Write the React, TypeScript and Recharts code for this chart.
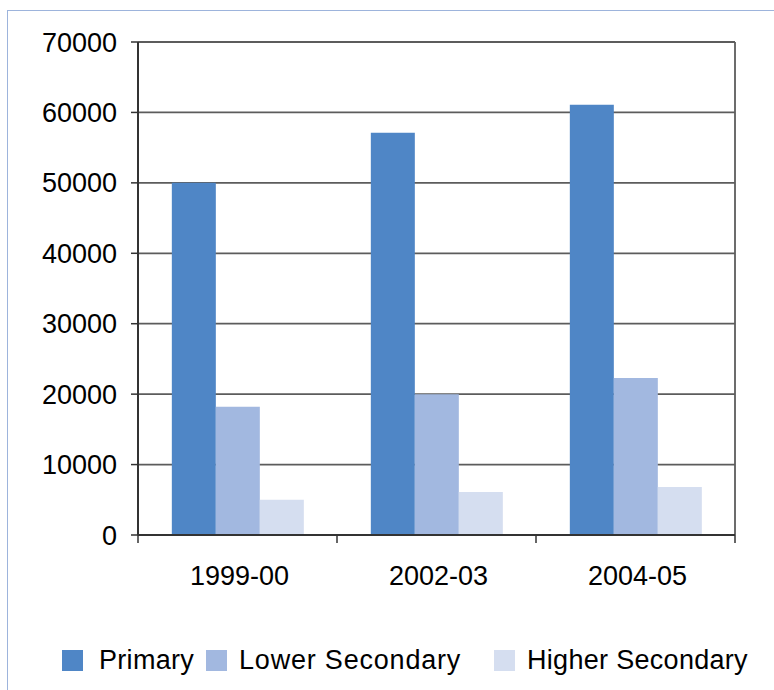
import React from 'react';
import { BarChart, Bar, XAxis, YAxis, CartesianGrid, Legend } from 'recharts';

const categories = ['1999-00', '2002-03', '2004-05'];
const primary = [50000, 57100, 61100];
const lowerSecondary = [18200, 20000, 22300];
const higherSecondary = [5000, 6100, 6800];
const yTicks = [0, 10000, 20000, 30000, 40000, 50000, 60000, 70000];

const seriesNames = ['Primary', 'Lower Secondary', 'Higher Secondary'];
const seriesColors = ['#4f86c6', '#a2b8e0', '#d5def0'];

const data = categories.map((c, i) => ({
  name: c,
  primary: primary[i],
  lower: lowerSecondary[i],
  higher: higherSecondary[i],
}));

const W = 774;
const H = 690;
const MARGIN = { top: 42, right: 39, bottom: 10, left: 0 };
const Y_AXIS_W = 138;
const X_AXIS_H = 105;
const LEGEND_H = 40;
const FONT = '"Liberation Sans", Arial, sans-serif';
const BAND = (W - MARGIN.left - MARGIN.right - Y_AXIS_W) / categories.length;
const X_TICK_SIZE = 8;
const X_TICK_MARGIN = 23;

const XTick = (props: any) => {
  const { x, y, payload, index } = props;
  const axisY = y - X_TICK_SIZE - X_TICK_MARGIN;
  const left = x - BAND / 2;
  const right = x + BAND / 2;
  return (
    <g>
      <line x1={left} x2={left} y1={axisY} y2={axisY + X_TICK_SIZE} stroke="#333" strokeWidth={1.5} />
      {index === categories.length - 1 && (
        <line x1={right} x2={right} y1={axisY} y2={axisY + X_TICK_SIZE} stroke="#333" strokeWidth={1.5} />
      )}
      <text x={x + 2} y={y} dy="0.71em" textAnchor="middle" fill="#000" fontSize={27} fontFamily={FONT}>
        {payload.value}
      </text>
    </g>
  );
};

const legendWidths = [144, 288, 260];

const LegendContent = () => (
  <div style={{ display: 'flex', alignItems: 'center', height: LEGEND_H, paddingLeft: 62, fontFamily: FONT, fontSize: 27, color: '#000', width: 800 }}>
    {seriesNames.map((n, i) => (
      <div key={n} style={{ display: 'flex', alignItems: 'center', width: legendWidths[i], flexShrink: 0 }}>
        <span style={{ display: 'inline-block', width: 21, height: 21, background: seriesColors[i], marginRight: i === 0 ? 16 : 12, flexShrink: 0 }} />
        <span style={{ whiteSpace: 'nowrap', letterSpacing: i === 1 ? 0.8 : 0.3 }}>{n}</span>
      </div>
    ))}
  </div>
);

export default function App() {
  return (
    <div style={{ position: 'absolute', left: 0, top: 0, width: W, height: H, overflow: 'hidden', background: '#fff' }}>
      <div style={{ position: 'absolute', left: 7, top: 10, width: 900, height: 900, borderTop: '1.5px solid #9db4dc', borderLeft: '1.5px solid #9db4dc' }} />
      <div style={{ position: 'absolute', left: 0, top: 0 }}>
        <BarChart width={W} height={H} data={data} margin={MARGIN} barCategoryGap="17%" barGap={0}>
          <CartesianGrid
            horizontal
            vertical
            stroke="#5c5c5c"
            strokeWidth={1.8}
            verticalCoordinatesGenerator={({ offset }: any) => [offset.left + offset.width]}
          />
          <XAxis
            dataKey="name"
            height={X_AXIS_H}
            tickLine={false}
            tickSize={X_TICK_SIZE}
            tickMargin={X_TICK_MARGIN}
            axisLine={{ stroke: '#333', strokeWidth: 2 }}
            tick={<XTick />}
            interval={0}
          />
          <YAxis
            width={Y_AXIS_W}
            domain={[0, 70000]}
            ticks={yTicks}
            interval={0}
            tickSize={7}
            tickMargin={14}
            tickLine={{ stroke: '#333', strokeWidth: 1.5 }}
            axisLine={{ stroke: '#333', strokeWidth: 2 }}
            tick={{ fill: '#000', fontSize: 27, fontFamily: FONT }}
          />
          <Legend verticalAlign="bottom" height={LEGEND_H} content={<LegendContent />} />
          <Bar dataKey="primary" name={seriesNames[0]} fill={seriesColors[0]} isAnimationActive={false} />
          <Bar dataKey="lower" name={seriesNames[1]} fill={seriesColors[1]} isAnimationActive={false} />
          <Bar dataKey="higher" name={seriesNames[2]} fill={seriesColors[2]} isAnimationActive={false} />
        </BarChart>
      </div>
    </div>
  );
}
